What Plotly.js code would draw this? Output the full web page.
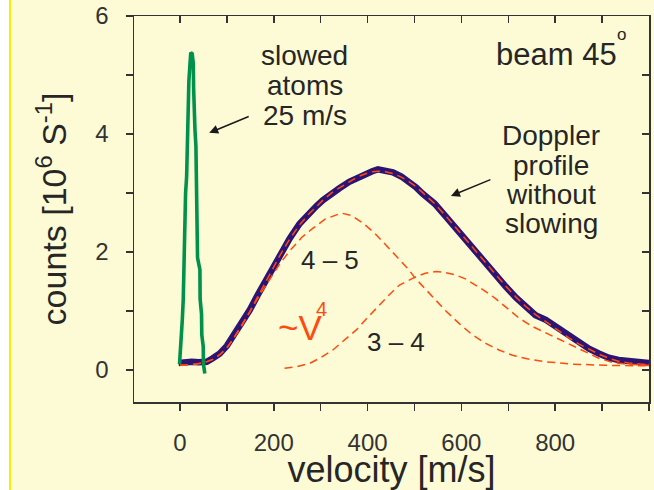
<!DOCTYPE html>
<html>
<head>
<meta charset="utf-8">
<script src="https://cdn.plot.ly/plotly-3.0.1.min.js"></script>
<style>html,body{margin:0;padding:0;background:#FDFBD5;}#chart{width:654px;height:490px;}</style>
</head>
<body>
<div id="chart"></div>
<script>
// slowed atoms (green)
const slowV = [-1, 0.5, 3.5, 5, 7, 8, 10.6, 12, 14.2, 15, 17.7, 19, 21.3, 23, 26, 28.4, 29, 30, 32, 34, 34.5, 36.9, 37.5, 42.5, 43, 46, 46.5, 49.6, 50, 53];
const slowC = [0.10, 0.28, 0.50, 0.85, 1.20, 1.69, 2.20, 3.00, 3.28, 3.80, 4.46, 4.90, 5.30, 5.38, 5.36, 5.20, 4.80, 4.20, 4.07, 3.80, 3.20, 2.60, 1.90, 1.70, 1.20, 0.95, 0.60, 0.40, 0.10, -0.06];

// Doppler profile without slowing (measured, purple)
const dataV = [-3, 10, 25, 40, 57, 70, 85, 100, 113, 130, 149, 165, 184, 200, 213, 234, 255, 273, 291, 305, 326, 340, 361, 380, 397, 410, 422, 438, 454, 472, 489, 503, 517, 543, 567, 588, 610, 631, 652, 673, 695, 716, 737, 758, 780, 808, 830, 851, 872, 893, 914, 935, 956, 978, 1000];
const dataC = [0.12, 0.14, 0.14, 0.13, 0.14, 0.20, 0.28, 0.41, 0.56, 0.77, 1.02, 1.26, 1.53, 1.77, 1.97, 2.23, 2.48, 2.64, 2.78, 2.88, 3.02, 3.08, 3.19, 3.27, 3.33, 3.37, 3.40, 3.38, 3.35, 3.28, 3.19, 3.10, 2.99, 2.82, 2.60, 2.40, 2.20, 2.02, 1.81, 1.61, 1.41, 1.23, 1.07, 0.93, 0.85, 0.70, 0.58, 0.46, 0.36, 0.28, 0.21, 0.17, 0.15, 0.14, 0.12];

// total fit (red dashed)
const fitV = [0, 25, 50, 70, 85, 100, 113, 130, 149, 165, 184, 200, 213, 234, 255, 273, 291, 305, 326, 340, 361, 380, 397, 410, 422, 438, 454, 472, 489, 503, 517, 543, 567, 588, 610, 631, 652, 673, 695, 716, 737, 758, 780, 808, 830, 851, 872, 893, 914, 935, 956, 978, 1000];
const fitC = [0.08, 0.09, 0.12, 0.18, 0.26, 0.38, 0.52, 0.74, 0.99, 1.23, 1.51, 1.75, 1.94, 2.22, 2.46, 2.63, 2.77, 2.88, 3.02, 3.09, 3.20, 3.28, 3.33, 3.36, 3.37, 3.36, 3.33, 3.27, 3.19, 3.11, 3.01, 2.82, 2.61, 2.41, 2.21, 2.02, 1.82, 1.62, 1.42, 1.24, 1.08, 0.94, 0.82, 0.66, 0.54, 0.44, 0.35, 0.27, 0.20, 0.15, 0.12, 0.10, 0.09];

// component 4-5
const comp45V = [0, 25, 50, 70, 85, 100, 130, 160, 190, 213, 234, 260, 283, 310, 344, 365, 390, 415, 439, 465, 489, 500, 539, 567, 595, 623, 652, 680, 709, 740, 780, 836, 907, 1000];
const comp45C = [0.08, 0.09, 0.12, 0.18, 0.26, 0.37, 0.72, 1.14, 1.52, 1.80, 2.02, 2.25, 2.40, 2.56, 2.66, 2.62, 2.49, 2.32, 2.12, 1.90, 1.69, 1.57, 1.24, 1.00, 0.79, 0.60, 0.45, 0.34, 0.25, 0.19, 0.14, 0.10, 0.08, 0.07];

// component 3-4
const comp34V = [223, 250, 276, 300, 326, 350, 376, 400, 425, 448, 468, 500, 523, 546, 567, 588, 610, 631, 652, 673, 698, 723, 751, 780, 808, 836, 865, 893, 922, 950, 1000];
const comp34C = [0.03, 0.06, 0.11, 0.21, 0.34, 0.50, 0.68, 0.89, 1.10, 1.29, 1.44, 1.57, 1.64, 1.67, 1.65, 1.61, 1.54, 1.44, 1.33, 1.21, 1.05, 0.88, 0.74, 0.63, 0.51, 0.41, 0.30, 0.20, 0.13, 0.10, 0.08];

// ticks
const xTickVals = [0, 100, 200, 300, 400, 500, 600, 700, 800, 900, 1000];
const xTickText = ['0', '', '200', '', '400', '', '600', '', '800', '', ''];
const yTickVals = [0, 1, 2, 3, 4, 5, 6];
const yTickText = ['0', '', '2', '', '4', '', '6'];

const FONT = 'Liberation Sans, Arial, Helvetica, sans-serif';
const TXT = '#262626';
const RED = '#FF4A10';
const BG = '#FDFBD5';

const dashRed = {color: RED, width: 1.5, dash: '8px,5px'};

const traces = [
  {x: dataV, y: dataC, mode: 'lines', line: {color: '#2E1472', width: 6.5}, hoverinfo: 'skip'},
  {x: fitV, y: fitC, mode: 'lines', line: dashRed, hoverinfo: 'skip'},
  {x: comp45V, y: comp45C, mode: 'lines', line: dashRed, hoverinfo: 'skip'},
  {x: comp34V, y: comp34C, mode: 'lines', line: dashRed, hoverinfo: 'skip'},
  {x: slowV, y: slowC, mode: 'lines', line: {color: '#00924C', width: 3.6}, hoverinfo: 'skip'},
  {x: [], y: [], xaxis: 'x2', yaxis: 'y2', mode: 'lines', hoverinfo: 'skip'}
];

const xr = [-98, 1000];
const yr = [-0.542, 6];
const axCol = '#333333';

function ann(text, x, y, size, color, extra) {
  return Object.assign({text: text, x: x, y: y, xref: 'x', yref: 'y', showarrow: false,
    xanchor: 'center', yanchor: 'middle', font: {family: FONT, size: size, color: color || TXT}}, extra || {});
}

const annotations = [
  ann('slowed', 266, 5.33, 28),
  ann('atoms', 266, 4.82, 28),
  ann('25 m/s', 266, 4.32, 28),
  ann('beam 45', 803, 5.35, 31),
  ann('o', 942, 5.68, 17),
  ann('Doppler', 792, 3.98, 28),
  ann('profile', 792, 3.47, 28),
  ann('without', 792, 2.98, 28),
  ann('slowing', 792, 2.49, 28),
  ann('4 – 5', 319, 1.87, 26),
  ann('3 – 4', 461, 0.47, 26),
  ann('~V', 256, 0.72, 35, RED),
  ann('4', 302, 1.04, 20, RED),
  {x: 62.3, y: 4.02, xref: 'x', yref: 'y', text: '', showarrow: true, arrowhead: 2, arrowsize: 1.2, arrowwidth: 1.5, arrowcolor: '#1a1a1a', ax: 41, ay: -17},
  {x: 577.7, y: 2.95, xref: 'x', yref: 'y', text: '', showarrow: true, arrowhead: 2, arrowsize: 1.2, arrowwidth: 1.5, arrowcolor: '#1a1a1a', ax: 41, ay: -17}
];

const layout = {
  width: 654, height: 490,
  margin: {l: 134, r: 5, t: 16, b: 88, pad: 0},
  paper_bgcolor: BG, plot_bgcolor: BG,
  showlegend: false,
  font: {family: FONT, color: TXT},
  xaxis: {
    range: xr, showgrid: false, zeroline: false,
    showline: true, mirror: true, linecolor: axCol, linewidth: 1.5,
    ticks: 'outside', ticklen: 7, tickwidth: 1.5, tickcolor: axCol,
    tickmode: 'array', tickvals: xTickVals, ticktext: xTickText,
    tickfont: {family: FONT, size: 24, color: '#333'},
    ticklabelstandoff: 12,
    title: {text: 'velocity [m/s]', font: {family: FONT, size: 36, color: TXT}, standoff: 8}
  },
  yaxis: {
    range: yr, showgrid: false, zeroline: false,
    showline: true, mirror: true, linecolor: axCol, linewidth: 1.5,
    ticks: 'outside', ticklen: 7, tickwidth: 1.5, tickcolor: axCol,
    tickmode: 'array', tickvals: yTickVals, ticktext: yTickText,
    tickfont: {family: FONT, size: 24, color: '#333'},
    ticklabelstandoff: 12,
    title: {text: 'counts [10<sup>6</sup> S<sup>-1</sup>]', font: {family: FONT, size: 34, color: TXT}, standoff: 18}
  },
  xaxis2: {
    overlaying: 'x', side: 'top', range: xr, showgrid: false, zeroline: false, showline: false,
    ticks: 'inside', ticklen: 7, tickwidth: 1.5, tickcolor: axCol,
    tickmode: 'array', tickvals: xTickVals, showticklabels: false
  },
  yaxis2: {
    overlaying: 'y', side: 'right', range: yr, showgrid: false, zeroline: false, showline: false,
    ticks: 'inside', ticklen: 7, tickwidth: 1.5, tickcolor: axCol,
    tickmode: 'array', tickvals: yTickVals, showticklabels: false
  },
  shapes: [
    {type: 'rect', xref: 'paper', yref: 'paper', x0: -0.27, x1: -0.2427, y0: -0.3, y1: 1.1, fillcolor: '#FFFFFF', line: {width: 0}, layer: 'below'},
    {type: 'line', xref: 'paper', yref: 'paper', x0: -0.2408, x1: -0.2408, y0: -0.3, y1: 1.1, line: {color: '#F4F000', width: 2}, layer: 'below'}
  ],
  annotations: annotations
};

Plotly.newPlot('chart', traces, layout, {displayModeBar: false, staticPlot: true});
</script>
</body>
</html>
